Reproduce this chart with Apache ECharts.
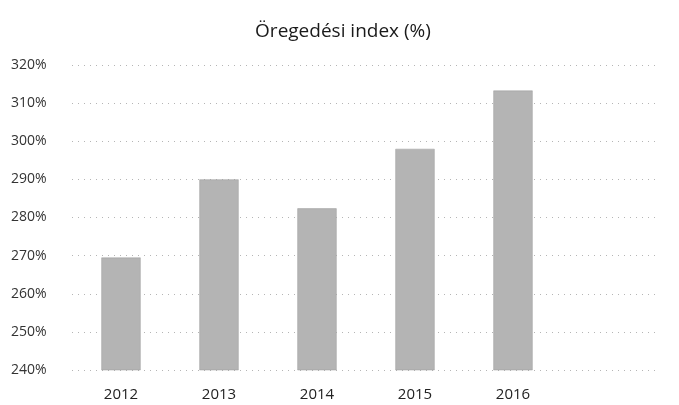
<!DOCTYPE html>
<html>
<head>
<meta charset="utf-8">
<script src="https://cdn.jsdelivr.net/npm/echarts@6.0.0/dist/echarts.min.js"></script>
<style>
  html, body { margin: 0; padding: 0; background: #fff; }
  #chart { width: 679px; height: 405px; }
</style>
</head>
<body>
<div id="chart"></div>
<script>
// adatok
const years = ['2012', '2013', '2014', '2015', '2016', ''];
const agingIndex = [269.5, 290, 282.4, 298, 313.3, null];
const yMin = 240;
const yMax = 320;
const yStep = 10;

const chart = echarts.init(document.getElementById('chart'));

chart.setOption({
  animation: false,
  backgroundColor: '#ffffff',
  title: {
    text: 'Öregedési index (%)',
    left: 338,
    textAlign: 'center',
    top: 17,
    textStyle: {
      fontFamily: 'Open Sans',
      fontSize: 19,
      fontWeight: 'normal',
      color: '#1a1a1a'
    }
  },
  grid: { left: 72, right: 19, top: 65, bottom: 35 },
  xAxis: {
    type: 'category',
    data: years,
    axisLine: { show: false },
    axisTick: { show: false },
    axisLabel: {
      color: '#222',
      fontFamily: 'Open Sans',
      fontSize: 15,
      margin: 17
    }
  },
  yAxis: {
    type: 'value',
    min: yMin,
    max: yMax,
    interval: yStep,
    axisLine: { show: false },
    axisTick: { show: false },
    axisLabel: {
      formatter: v => v + '%',
      color: '#333',
      fontFamily: 'Open Sans',
      fontSize: 14,
      align: 'left',
      margin: 61
    },
    splitLine: {
      lineStyle: { color: '#b5b5b5', type: [1, 5], width: 1 }
    }
  },
  series: [{
    type: 'bar',
    data: agingIndex,
    barWidth: '40%',
    itemStyle: {
      color: '#b4b4b4',
      borderColor: '#9a9a9a',
      borderWidth: 0.5
    }
  }]
});
</script>
</body>
</html>
